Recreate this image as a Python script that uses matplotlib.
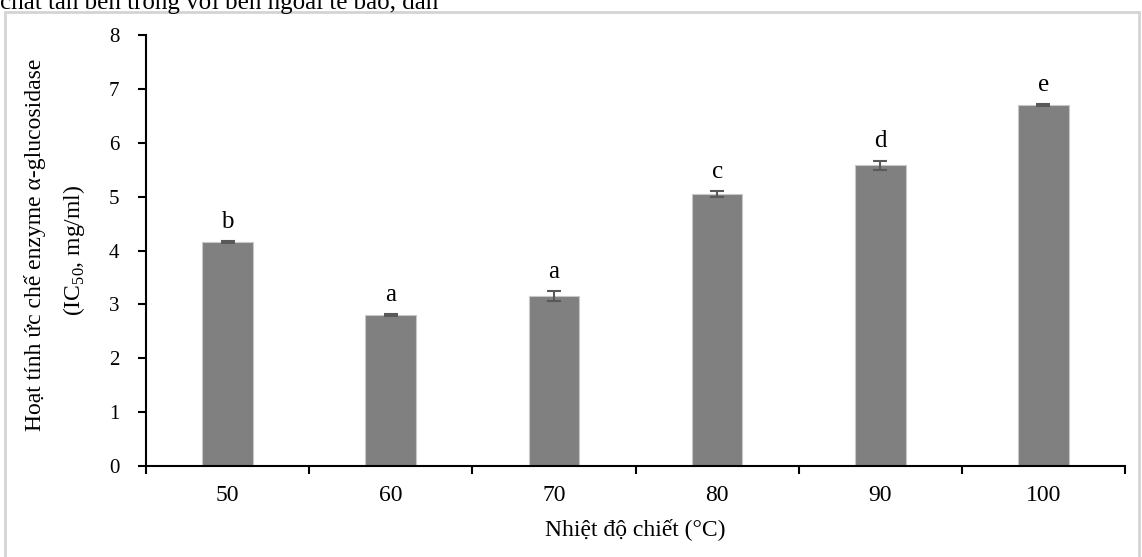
import matplotlib.pyplot as plt
import numpy as np
from matplotlib.patches import Rectangle

plt.rcParams['font.family'] = ['Liberation Serif', 'DejaVu Serif']
plt.rcParams['mathtext.fontset'] = 'custom'
plt.rcParams['mathtext.rm'] = 'Liberation Serif'

# data
temps = ['50', '60', '70', '80', '90', '100']
ic50 = [4.15, 2.80, 3.15, 5.05, 5.58, 6.70]
err = [0.02, 0.02, 0.09, 0.05, 0.09, 0.02]
letters = ['b', 'a', 'a', 'c', 'd', 'e']

W, H = 1142, 557
fig = plt.figure(figsize=(W / 100, H / 100), dpi=100)
ax = fig.add_axes([146 / W, 1 - 466 / H, 979 / W, 431 / H])

x = np.arange(len(temps))
ax.bar(x, ic50, width=0.31, color='#808080', edgecolor='#c8c8c8', linewidth=0.8, zorder=2)
ax.errorbar(x, ic50, yerr=err, fmt='none', ecolor='#595959', elinewidth=1.5,
            capsize=5, capthick=1.5, zorder=3)

for xi, v, e, l in zip(x, ic50, err, letters):
    ax.annotate(l, (xi, v + e), xytext=(0, 9.5), textcoords='offset points',
                ha='center', va='baseline', fontsize=18)

ax.set_xlim(-0.5, len(temps) - 0.5)
ax.set_ylim(0, 8)
ax.set_yticks(range(0, 9))
ax.set_xticks(x)
ax.set_xticklabels(temps)
ax.set_xticks(np.arange(-0.5, len(temps)), minor=True)
ax.tick_params(axis='x', which='major', length=0, pad=13.5, labelsize=17)
ax.tick_params(axis='x', which='minor', length=6, width=1.5, direction='out')
ax.tick_params(axis='y', length=6, width=1.5, direction='out', pad=13, labelsize=15)
for s in ['top', 'right']:
    ax.spines[s].set_visible(False)
for s in ['left', 'bottom']:
    ax.spines[s].set_linewidth(1.5)

ax.set_xlabel('Nhiệt độ chiết (°C)', fontsize=17, va='center')
ax.xaxis.set_label_coords(0.5, -(529 - 466) / 431)

# two-line y title, spaced as in the reference
fig.text(35 / W, 1 - 245 / H, 'Hoạt tính ức chế enzyme α-glucosidase',
         rotation=90, ha='center', va='center', fontsize=17)
fig.text(74 / W, 1 - 250 / H, '(IC$_{50}$, mg/ml)',
         rotation=90, ha='center', va='center', fontsize=17)

# light frame round the chart and the cut-off line of text above it
fig.patches.append(Rectangle((5 / W, -0.05), 1134 / W, 1 - 12 / H + 0.05,
                             transform=fig.transFigure, fill=False,
                             edgecolor='#d4d4d4', linewidth=2))
fig.text(0.0, 1 - 9 / H, 'chất tan bên trong với bên ngoài tế bào, dẫn',
         fontsize=18, va='baseline', ha='left')

fig.savefig('out.png', dpi=100)
